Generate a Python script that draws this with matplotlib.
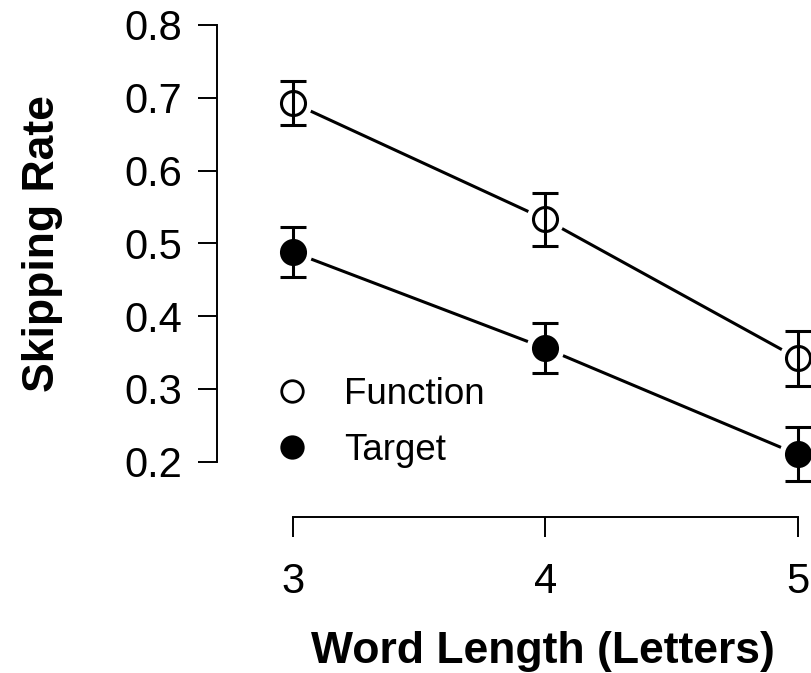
"""Skipping rate by word length for function and target words."""

import matplotlib

matplotlib.use("Agg")

import matplotlib.pyplot as plt
from matplotlib.lines import Line2D
from matplotlib.ticker import FormatStrFormatter

plt.rcParams["font.family"] = ["Liberation Sans", "DejaVu Sans"]

word_length = [3, 4, 5]
function_rate = [0.693, 0.533, 0.342]
function_se = [0.030, 0.036, 0.038]
target_rate = [0.488, 0.356, 0.210]
target_se = [0.034, 0.034, 0.037]
y_ticks = [0.2, 0.3, 0.4, 0.5, 0.6, 0.7, 0.8]

LW = 2.2
MS = 17.3

fig = plt.figure(figsize=(8.12, 6.73), dpi=100)
ax = fig.add_axes([0.3356, 0.288, 0.6717, 0.7009])
ax.set_xlim(2.92, 5.08)
ax.set_ylim(0.176, 0.824)


def draw_series(rates, errs, face):
    # connecting line, white halo for the gap around each point, bars, points
    ax.plot(word_length, rates, color="black", lw=LW, zorder=1, clip_on=False)
    ax.plot(word_length, rates, ls="none", marker="o", ms=MS + 10,
            mfc="white", mec="none", zorder=2, clip_on=False)
    ax.errorbar(word_length, rates, yerr=errs, fmt="none", ecolor="black",
                elinewidth=LW, capsize=9.7, capthick=LW, zorder=3,
                clip_on=False)
    ax.plot(word_length, rates, ls="none", marker="o", ms=MS, mfc=face,
            mec="black", mew=LW, zorder=4, clip_on=False)


draw_series(function_rate, function_se, "none")
draw_series(target_rate, target_se, "black")

for side in ("top", "right"):
    ax.spines[side].set_visible(False)
ax.spines["left"].set_position(("outward", 40.2))
ax.spines["bottom"].set_position(("outward", 27.2))
ax.spines["left"].set_bounds(0.2, 0.8)
ax.spines["bottom"].set_bounds(3, 5)
for side in ("left", "bottom"):
    ax.spines[side].set_linewidth(1.4)

ax.set_xticks(word_length)
ax.set_yticks(y_ticks)
ax.yaxis.set_major_formatter(FormatStrFormatter("%.1f"))
ax.tick_params(axis="y", length=13.7, width=1.4, pad=11, labelsize=30)
ax.tick_params(axis="x", length=14.4, width=1.4, pad=18, labelsize=30)

ax.set_ylabel("Skipping Rate", fontsize=32, fontweight="bold")
ax.yaxis.label.set_va("center")
ax.yaxis.set_label_coords(-0.421, 0.5)
ax.set_xlabel("Word Length (Letters)", fontsize=32, fontweight="bold")
ax.xaxis.label.set_va("center")
ax.xaxis.set_label_coords(0.496, -0.366)

handles = [
    Line2D([], [], ls="none", marker="o", ms=15.5, mfc="none", mec="black",
           mew=2.0, label="Function"),
    Line2D([], [], ls="none", marker="o", ms=15.5, mfc="black", mec="black",
           mew=2.0, label="Target"),
]
ax.legend(handles=handles, loc="upper left", bbox_to_anchor=(0.002, 0.216),
          frameon=False, fontsize=26.5, handlelength=1.0, handletextpad=0.92,
          labelspacing=0.55, borderaxespad=0, borderpad=0)

fig.savefig("out.png", dpi=100)
